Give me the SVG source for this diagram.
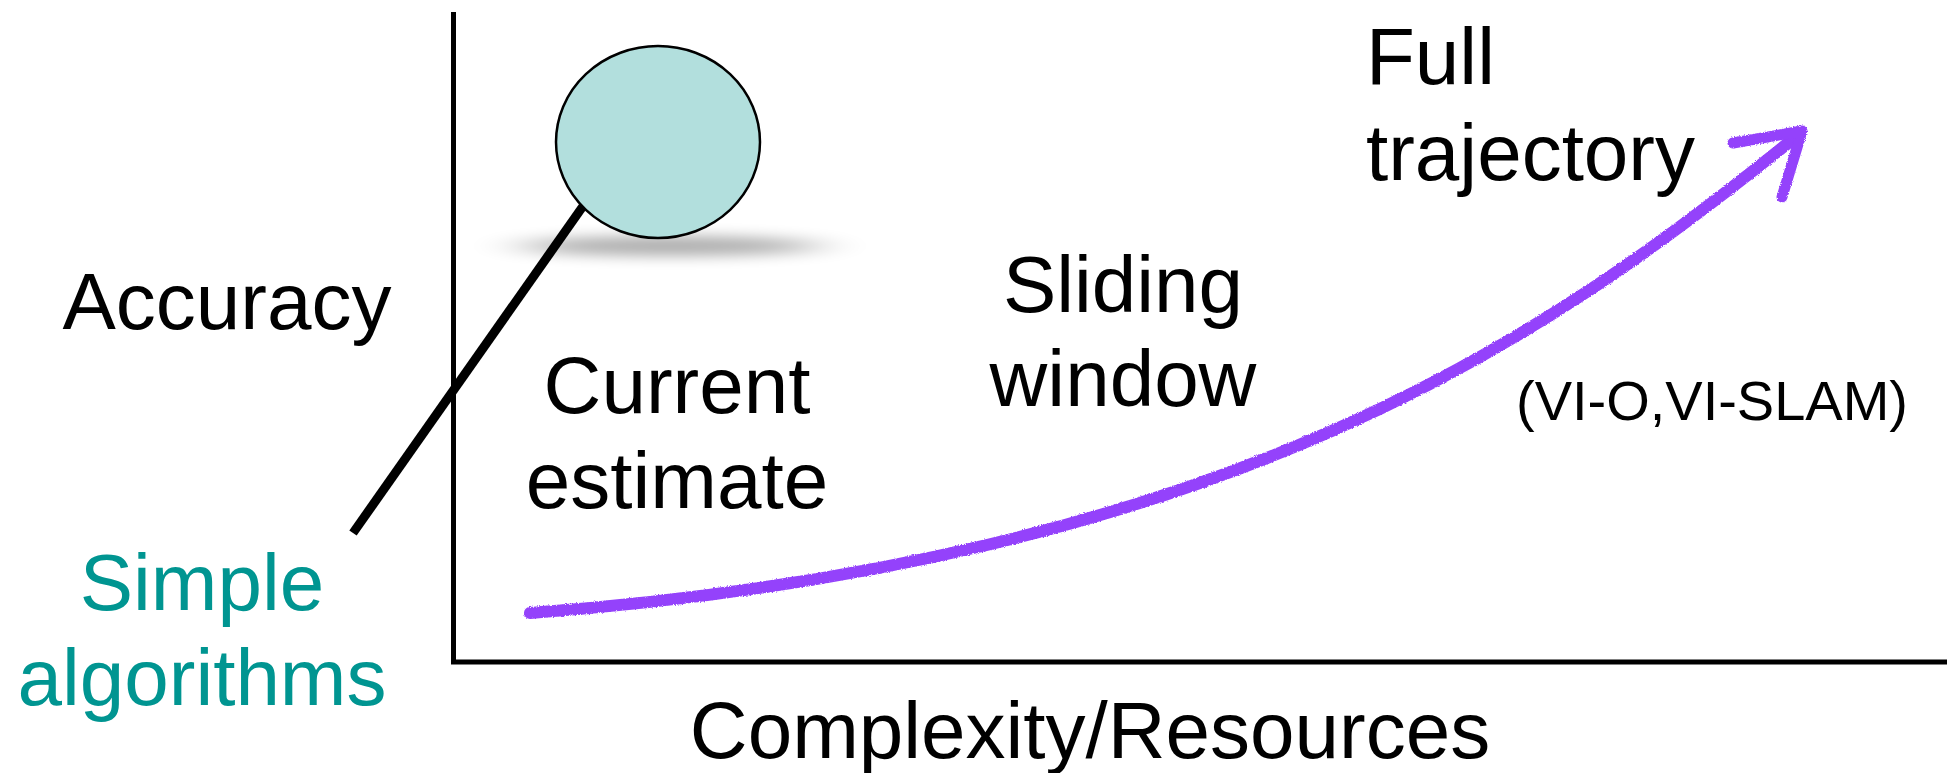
<svg xmlns="http://www.w3.org/2000/svg" width="1947" height="773" viewBox="0 0 1947 773">
  <style>
    .lbl { font-family: "Liberation Sans", Arial, sans-serif; font-size: 80px; fill: #000; }
    .teal { fill: #009591; }
    .small { font-size: 56px; }
    .axis { stroke: #000; stroke-width: 5; fill: none; }
    .traj { stroke: #9442fb; fill: none; stroke-linecap: round; stroke-linejoin: round; }
  </style>
  <defs>
    <filter id="shadowBlur" x="-50%" y="-400%" width="200%" height="900%">
      <feGaussianBlur stdDeviation="28 7"/>
    </filter>
    <filter id="crayon" x="-5%" y="-5%" width="110%" height="110%">
      <feTurbulence type="fractalNoise" baseFrequency="0.9" numOctaves="2" seed="3" result="n"/>
      <feDisplacementMap in="SourceGraphic" in2="n" scale="3" xChannelSelector="R" yChannelSelector="G"/>
    </filter>
  </defs>

  <g id="axes">
    <line class="axis" x1="453.5" y1="12" x2="453.5" y2="664"/>
    <line class="axis" x1="451" y1="662" x2="1947" y2="662"/>
  </g>

  <g id="axis-labels">
    <text class="lbl" x="227" y="329" text-anchor="middle">Accuracy</text>
    <text class="lbl" x="1090" y="758" text-anchor="middle">Complexity/Resources</text>
  </g>

  <g id="simple-algorithms">
    <ellipse cx="670" cy="246" rx="150" ry="10" fill="#000" opacity="0.32" filter="url(#shadowBlur)"/>
    <line x1="600" y1="182" x2="353" y2="533" stroke="#000" stroke-width="9"/>
    <ellipse cx="658" cy="142" rx="102" ry="96" fill="#b2dfdd" stroke="#000" stroke-width="2.5"/>
    <text class="lbl teal" x="202" y="610" text-anchor="middle">Simple</text>
    <text class="lbl teal" x="202" y="705" text-anchor="middle">algorithms</text>
  </g>

  <g id="current-estimate">
    <text class="lbl" x="677" y="413" text-anchor="middle">Current</text>
    <text class="lbl" x="677" y="508" text-anchor="middle">estimate</text>
  </g>

  <g id="sliding-window">
    <text class="lbl" x="1123" y="312" text-anchor="middle">Sliding</text>
    <text class="lbl" x="1123" y="406" text-anchor="middle">window</text>
  </g>

  <g id="full-trajectory">
    <text class="lbl" x="1366" y="84" text-anchor="start">Full</text>
    <text class="lbl" x="1366" y="180" text-anchor="start">trajectory</text>
    <text class="lbl small" x="1712" y="420" text-anchor="middle">(VI-O,VI-SLAM)</text>
  </g>

  <g id="connectors" filter="url(#crayon)">
    <path class="traj" stroke-width="12" d="M530,613 C1230,560 1545,340 1798,135"/>
    <path class="traj" stroke-width="11" d="M1733,143 L1802,131 L1782,197"/>
  </g>
</svg>
